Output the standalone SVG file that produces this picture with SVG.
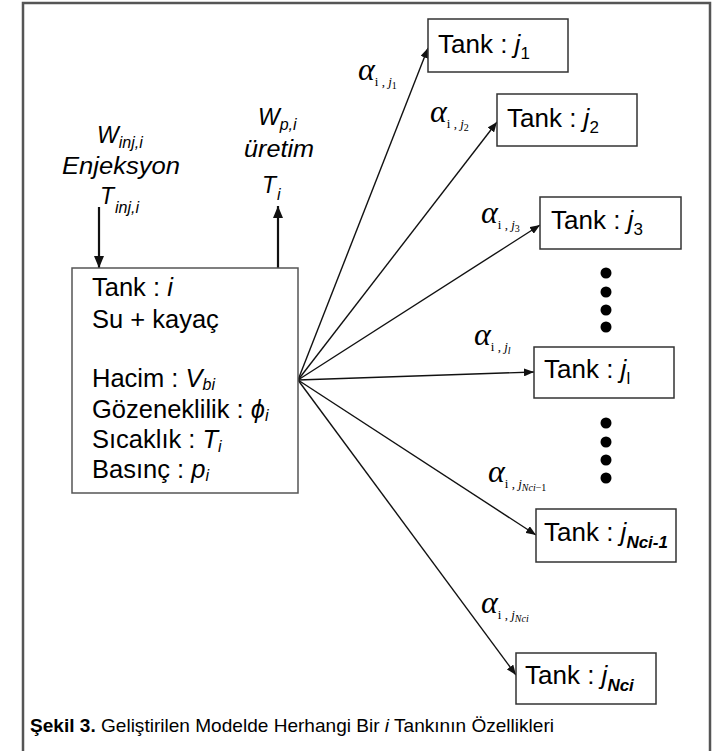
<svg xmlns="http://www.w3.org/2000/svg" width="723" height="751" viewBox="0 0 723 751">
<defs>
<marker id="ah" viewBox="0 0 10 8" refX="10" refY="4" markerWidth="10" markerHeight="8" markerUnits="userSpaceOnUse" orient="auto">
<path d="M0,0 L10,4 L0,8 z" fill="#111"/>
</marker>
<marker id="ahv" viewBox="0 0 12 10" refX="12" refY="5" markerWidth="12" markerHeight="10" markerUnits="userSpaceOnUse" orient="auto">
<path d="M0,0 L12,5 L0,10 z" fill="#111"/>
</marker>
</defs>
<style>
.frame{fill:none;stroke:#555;stroke-width:2.5}
.box{fill:#fff;stroke:#333;stroke-width:1.5}
.mbox{fill:#fff;stroke:#555;stroke-width:1.5}
.conn{stroke:#111;stroke-width:1.4;fill:none;marker-end:url(#ah)}
.vconn{stroke:#111;stroke-width:2.2;fill:none;marker-end:url(#ahv)}
.sans{font-family:"Liberation Sans",Arial,sans-serif;fill:#000}
.lbl{font-family:"Liberation Sans",Arial,sans-serif;font-size:23px;font-style:italic;fill:#000}
.tank{font-family:"Liberation Sans",Arial,sans-serif;font-size:26px;fill:#000}
.main{font-family:"Liberation Sans",Arial,sans-serif;font-size:25.5px;fill:#000}
.alpha{font-family:"Liberation Serif","Times New Roman",serif;fill:#000}
.it{font-style:italic}
.dot{fill:#000}
</style>
<rect class="frame" x="23" y="3" width="687" height="770"/>

<g id="connectors">
<line class="vconn" x1="99" y1="207" x2="99" y2="268"/>
<line class="vconn" x1="278" y1="268" x2="278" y2="206"/>
<line class="conn" x1="298" y1="380" x2="428" y2="48"/>
<line class="conn" x1="298" y1="380" x2="497" y2="122"/>
<line class="conn" x1="298" y1="380" x2="540" y2="225"/>
<line class="conn" x1="298" y1="380" x2="534" y2="372"/>
<line class="conn" x1="298" y1="380" x2="536" y2="535"/>
<line class="conn" x1="298" y1="380" x2="516" y2="675"/>
</g>

<g id="injection">
<text class="lbl" x="97" y="143" font-size="25">W<tspan font-size="16" dy="5">inj,i</tspan></text>
<text class="lbl" x="62" y="174" textLength="118" lengthAdjust="spacingAndGlyphs">Enjeksyon</text>
<text class="lbl" x="100" y="204">T<tspan font-size="16" dy="9" dx="1">inj,i</tspan></text>
</g>

<g id="production">
<text class="lbl" x="258" y="125" font-size="25">W<tspan font-size="16" dy="5">p,i</tspan></text>
<text class="lbl" x="244" y="157" textLength="70" lengthAdjust="spacingAndGlyphs">üretim</text>
<text class="lbl" x="262" y="193">T<tspan font-size="16" dy="7" dx="1">i</tspan></text>
</g>

<g id="tank-i">
<rect class="mbox" x="72" y="268" width="226" height="225"/>
<text class="main" x="92" y="296">Tank : <tspan class="it">i</tspan></text>
<text class="main" x="92" y="328">Su + kayaç</text>
<text class="main" x="92" y="387">Hacim : <tspan class="it">V</tspan><tspan class="it" font-size="16" dy="3">bi</tspan></text>
<text class="main" x="92" y="418">Gözeneklilik : <tspan class="it">ϕ</tspan><tspan class="it" font-size="16" dy="3">i</tspan></text>
<text class="main" x="92" y="448">Sıcaklık : <tspan class="it">T</tspan><tspan class="it" font-size="16" dy="4">i</tspan></text>
<text class="main" x="92" y="478">Basınç : <tspan class="it">p</tspan><tspan class="it" font-size="16" dy="3">i</tspan></text>
</g>

<g id="tank-j1">
<rect class="box" x="428" y="19" width="140" height="53"/>
<text class="tank" x="438" y="53">Tank : <tspan class="it">j</tspan><tspan font-size="17" dy="6">1</tspan></text>
</g>
<g id="tank-j2">
<rect class="box" x="497" y="94" width="140" height="52"/>
<text class="tank" x="507" y="127">Tank : <tspan class="it">j</tspan><tspan font-size="17" dy="6">2</tspan></text>
</g>
<g id="tank-j3">
<rect class="box" x="540" y="197" width="141" height="52"/>
<text class="tank" x="551" y="229">Tank : <tspan class="it">j</tspan><tspan font-size="17" dy="6">3</tspan></text>
</g>
<g id="dots-1">
<circle class="dot" cx="606" cy="273" r="5.5"/>
<circle class="dot" cx="606" cy="292" r="5.5"/>
<circle class="dot" cx="606" cy="310" r="5.5"/>
<circle class="dot" cx="606" cy="327" r="5.5"/>
</g>
<g id="tank-jl">
<rect class="box" x="534" y="347" width="140" height="51"/>
<text class="tank" x="544" y="378">Tank : <tspan class="it">j</tspan><tspan font-size="17" dy="6">l</tspan></text>
</g>
<g id="dots-2">
<circle class="dot" cx="606" cy="423" r="5.5"/>
<circle class="dot" cx="606" cy="442" r="5.5"/>
<circle class="dot" cx="606" cy="460" r="5.5"/>
<circle class="dot" cx="606" cy="478" r="5.5"/>
</g>
<g id="tank-jNci-1">
<rect class="box" x="536" y="509" width="140" height="53"/>
<text class="tank" x="544" y="541">Tank : <tspan class="it">j</tspan><tspan class="it" font-size="17" font-weight="bold" dy="7">Nci-1</tspan></text>
</g>
<g id="tank-jNci">
<rect class="box" x="516" y="653" width="140" height="51"/>
<text class="tank" x="525" y="684">Tank : <tspan class="it">j</tspan><tspan class="it" font-size="17" font-weight="bold" dy="7">Nci</tspan></text>
</g>

<g id="alpha-labels">
<text class="alpha it" x="358" y="80" font-size="32">α<tspan font-size="13" font-style="normal" dy="6">i , </tspan><tspan font-size="13">j</tspan><tspan font-size="10" font-style="normal" dy="3">1</tspan></text>
<text class="alpha it" x="430" y="122" font-size="32">α<tspan font-size="13" font-style="normal" dy="6">i , </tspan><tspan font-size="13">j</tspan><tspan font-size="10" font-style="normal" dy="3">2</tspan></text>
<text class="alpha it" x="481" y="223" font-size="32">α<tspan font-size="13" font-style="normal" dy="6">i , </tspan><tspan font-size="13">j</tspan><tspan font-size="10" font-style="normal" dy="3">3</tspan></text>
<text class="alpha it" x="474" y="345" font-size="32">α<tspan font-size="13" font-style="normal" dy="6">i , </tspan><tspan font-size="13">j</tspan><tspan font-size="10" dy="3">l</tspan></text>
<text class="alpha it" x="488" y="482" font-size="32">α<tspan font-size="13" font-style="normal" dy="6">i , </tspan><tspan font-size="13">j</tspan><tspan font-size="10" dy="3">Nci</tspan><tspan font-size="10" font-style="normal">−1</tspan></text>
<text class="alpha it" x="481" y="613" font-size="32">α<tspan font-size="13" font-style="normal" dy="6">i , </tspan><tspan font-size="13">j</tspan><tspan font-size="10" dy="3">Nci</tspan></text>
</g>

<g id="caption">
<text class="sans" x="30" y="732" font-size="19" textLength="524" lengthAdjust="spacingAndGlyphs"><tspan font-weight="bold">Şekil 3.</tspan> Geliştirilen Modelde Herhangi Bir <tspan font-style="italic">i</tspan> Tankının Özellikleri</text>
</g>
</svg>
